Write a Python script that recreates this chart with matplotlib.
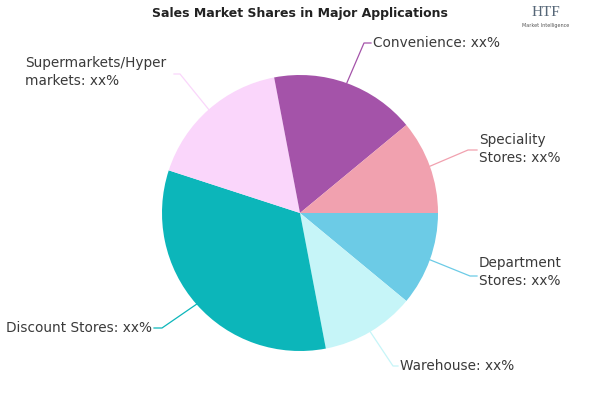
import numpy as np
import matplotlib
matplotlib.use("Agg")
import matplotlib.pyplot as plt

categories = ["Department\nStores", "Warehouse", "Discount Stores",
              "Supermarkets/Hyper\nmarkets", "Convenience", "Speciality\nStores"]
shares = [11, 11, 33, 17, 17, 11]
colors = ["#6ccbe6", "#c6f5f8", "#0cb6ba", "#fad6fb", "#a453a9", "#f1a1af"]

# label layout (pixel coords): text x, text y, elbow x, elbow y, line end x, alignment
label_pos = [
    (479, 272, 470, 276, 477, "left"),
    (400, 366, 393, 366, 398, "left"),
    (152, 328, 162, 328, 154, "right"),
    (25, 72, 180, 74, 174, "left"),
    (373, 43, 364, 43, 371, "left"),
    (479, 149, 468, 150, 477, "left"),
]

fig = plt.figure(figsize=(6, 4), dpi=100)
ax = fig.add_axes([0, 0, 1, 1])

cx, cy, r = 300, 213, 138
wedges, _ = ax.pie(shares, colors=colors, startangle=0, counterclock=True,
                   center=(cx, cy), radius=r, frame=True,
                   wedgeprops=dict(linewidth=0))
ax.set_xlim(0, 600)
ax.set_ylim(400, 0)
ax.set_aspect("equal")
ax.axis("off")

for w, name, (tx, ty, ex, ey, endx, ha) in zip(wedges, categories, label_pos):
    mid = np.deg2rad((w.theta1 + w.theta2) / 2)
    px = cx + r * np.cos(mid)
    py = cy + r * np.sin(mid)
    ax.plot([px, ex, endx], [py, ey, ey], color=w.get_facecolor(), lw=0.9)
    ax.text(tx, ty, name + ": xx%", ha=ha, va="center", fontsize=9.8,
            color="#3a3a3a", linespacing=1.35)

ax.text(300, 13, "Sales Market Shares in Major Applications", ha="center", va="center",
        fontsize=9, fontweight="heavy", color="#222222",
        family=["Liberation Sans Narrow", "DejaVu Sans"])

# logo
ax.text(546, 12, "HTF", ha="center", va="center", fontsize=11,
        family=["Liberation Serif", "DejaVu Serif"], color="#556677")
ax.text(546, 26, "Market Intelligence", ha="center", va="center", fontsize=3.5, color="#555555")

fig.savefig("out.png", dpi=100)
